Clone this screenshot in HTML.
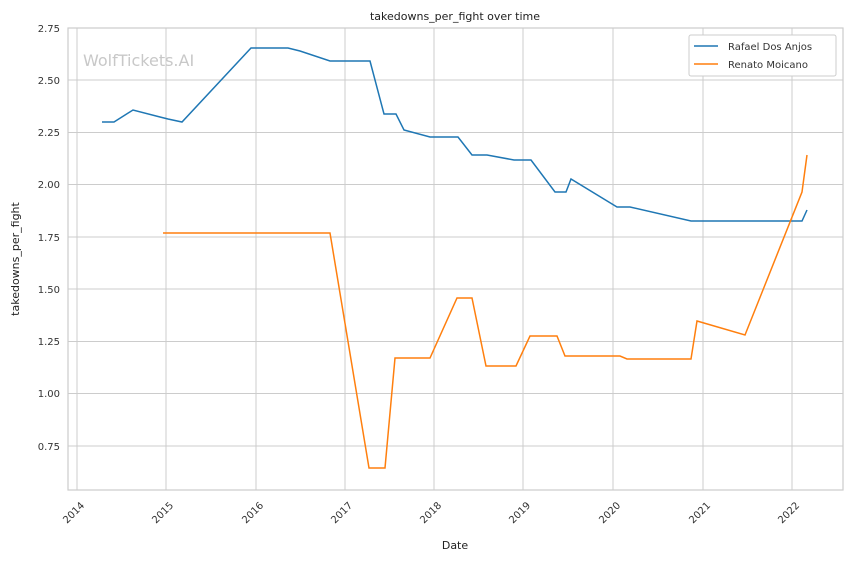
<!DOCTYPE html><html><head><style>body{margin:0;background:#fff}svg{font-family:"DejaVu Sans","Liberation Sans",sans-serif}</style></head><body>
<svg width="852" height="561" xmlns="http://www.w3.org/2000/svg">
<rect width="852" height="561" fill="#fff"/>
<g stroke="#cccccc" stroke-width="1">
<line x1="77" y1="28" x2="77" y2="490"/><line x1="166" y1="28" x2="166" y2="490"/><line x1="256" y1="28" x2="256" y2="490"/><line x1="345" y1="28" x2="345" y2="490"/><line x1="434" y1="28" x2="434" y2="490"/><line x1="523" y1="28" x2="523" y2="490"/><line x1="613" y1="28" x2="613" y2="490"/><line x1="703" y1="28" x2="703" y2="490"/><line x1="792" y1="28" x2="792" y2="490"/>
<line x1="68" y1="28" x2="843" y2="28"/><line x1="68" y1="80" x2="843" y2="80"/><line x1="68" y1="132.5" x2="843" y2="132.5"/><line x1="68" y1="184.5" x2="843" y2="184.5"/><line x1="68" y1="237" x2="843" y2="237"/><line x1="68" y1="289" x2="843" y2="289"/><line x1="68" y1="341.5" x2="843" y2="341.5"/><line x1="68" y1="393.5" x2="843" y2="393.5"/><line x1="68" y1="446" x2="843" y2="446"/>
</g>
<rect x="68" y="28" width="775" height="462" fill="none" stroke="#cccccc" stroke-width="1.2"/>
<text x="83" y="66" font-size="16" fill="#c8c8c8">WolfTickets.AI</text>
<polyline fill="none" stroke="#1f77b4" stroke-width="1.5" points="102,122 114,122 133,110 160,117 168,119 182,122 251,48 288,48 300,51 330,61 370,61 384,114 396,114 404,130 430,137 458,137 472,155 487,155 514,160 531,160 555,192 566,192 571,179 617,207 630,207 691,221 802,221 807,210"/>
<polyline fill="none" stroke="#ff7f0e" stroke-width="1.5" points="163,233 330,233 369,468 385,468 395,358 430,358 457,298 472,298 486,366 516,366 530,336 557,336 565,356 620,356 627,359 691,359 697,321 745,335 802,192 807,155"/>
<g font-size="10" fill="#333" text-anchor="end">
<text x="60" y="32">2.75</text><text x="60" y="84">2.50</text><text x="60" y="136">2.25</text><text x="60" y="188">2.00</text><text x="60" y="241">1.75</text><text x="60" y="293">1.50</text><text x="60" y="345">1.25</text><text x="60" y="397">1.00</text><text x="60" y="450">0.75</text>
</g>
<g font-size="10" fill="#333" text-anchor="end">
<text transform="translate(85,506) rotate(-45)">2014</text><text transform="translate(174,506) rotate(-45)">2015</text><text transform="translate(264,506) rotate(-45)">2016</text><text transform="translate(353,506) rotate(-45)">2017</text><text transform="translate(442,506) rotate(-45)">2018</text><text transform="translate(531,506) rotate(-45)">2019</text><text transform="translate(621,506) rotate(-45)">2020</text><text transform="translate(711,506) rotate(-45)">2021</text><text transform="translate(800,506) rotate(-45)">2022</text>
</g>
<text x="455" y="549" font-size="11" fill="#222" text-anchor="middle">Date</text>
<text transform="translate(19,259) rotate(-90)" font-size="11" fill="#222" text-anchor="middle">takedowns_per_fight</text>
<text x="455" y="20" font-size="11" fill="#222" text-anchor="middle">takedowns_per_fight over time</text>
<rect x="689" y="35" width="147" height="41" rx="2" fill="#fff" stroke="#ccc"/>
<line x1="694" y1="46" x2="718" y2="46" stroke="#1f77b4" stroke-width="1.5"/>
<line x1="694" y1="64" x2="718" y2="64" stroke="#ff7f0e" stroke-width="1.5"/>
<text x="728" y="50" font-size="10" fill="#333">Rafael Dos Anjos</text>
<text x="728" y="68" font-size="10" fill="#333">Renato Moicano</text>
</svg></body></html>
